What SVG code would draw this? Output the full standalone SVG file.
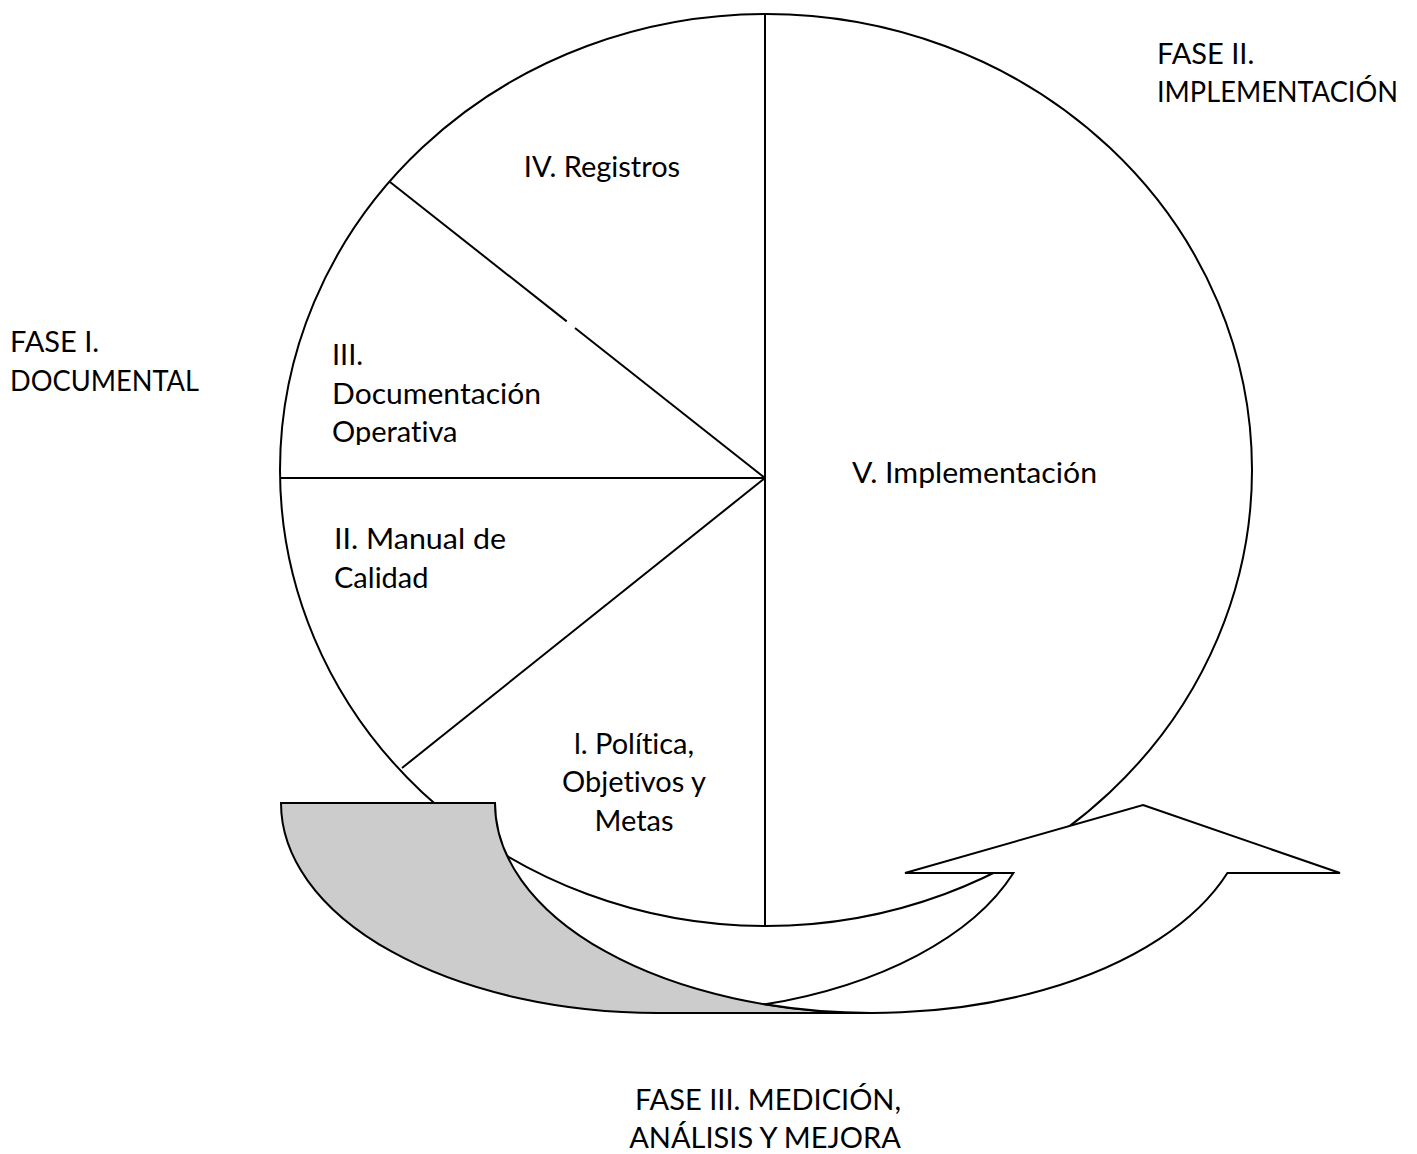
<svg xmlns="http://www.w3.org/2000/svg" width="1417" height="1154" viewBox="0 0 1417 1154">
  <style>
    .ln { fill: none; stroke: #000; stroke-width: 2; }
    .shape { stroke: #000; stroke-width: 2; stroke-linejoin: miter; }
    text { font-family: Lato, "Open Sans", sans-serif; font-size: 29px; fill: #000; font-variant-ligatures: none; }
    .mid { text-anchor: middle; }
  </style>
  <defs>
    <clipPath id="clipOp"><rect x="300" y="380" width="300" height="65"/></clipPath>
  </defs>
  <rect width="1417" height="1154" fill="#fff"/>

  <g id="wheel">
    <ellipse cx="766" cy="470" rx="486" ry="456" fill="#fff" class="shape"/>
  </g>

  <g id="connectors">
    <line class="ln" x1="765" y1="14" x2="765" y2="926"/>
    <line class="ln" x1="280" y1="478" x2="765" y2="478"/>
    <line class="ln" x1="390" y1="182" x2="566.7" y2="321.4"/>
    <line class="ln" x1="575" y1="328" x2="765" y2="478"/>
    <line class="ln" x1="402" y1="768" x2="765" y2="478"/>
  </g>

  <g id="cycle-arrow">
    <path class="shape" fill="#cccccc" d="M 281 803 L 495 803 A 377 210 0 0 0 872 1013 L 658 1013 A 377 210 0 0 1 281 803 Z"/>
    <path class="shape" fill="#fff" d="M 1143 805 L 1340 873 L 1227.4 873 A 377 210 0 0 1 765 1004.36 A 377 210 0 0 0 1013.4 873 L 905 873 Z"/>
  </g>

  <g id="label-fase2">
    <text x="1157" y="64">FASE II.</text>
    <text x="1157" y="102" textLength="241" lengthAdjust="spacingAndGlyphs">IMPLEMENTACIÓN</text>
  </g>
  <g id="node-iv">
    <text class="mid" x="602" y="177">IV. Registros</text>
  </g>
  <g id="label-fase1">
    <text x="10" y="352">FASE I.</text>
    <text x="10" y="391" textLength="189" lengthAdjust="spacingAndGlyphs">DOCUMENTAL</text>
  </g>
  <g id="node-iii">
    <text x="332" y="365">III.</text>
    <text x="332" y="404" textLength="209" lengthAdjust="spacingAndGlyphs">Documentación</text>
    <text x="332" y="442" clip-path="url(#clipOp)">Operativa</text>
  </g>
  <g id="node-v">
    <text x="852" y="483" textLength="245" lengthAdjust="spacingAndGlyphs">V. Implementación</text>
  </g>
  <g id="node-ii">
    <text x="334" y="549" textLength="172" lengthAdjust="spacingAndGlyphs">II. Manual de</text>
    <text x="334" y="588">Calidad</text>
  </g>
  <g id="node-i">
    <text class="mid" x="634" y="754">l. Política,</text>
    <text class="mid" x="634" y="792">Objetivos y</text>
    <text class="mid" x="634" y="831">Metas</text>
  </g>
  <g id="label-fase3">
    <text class="mid" x="768" y="1110">FASE III. MEDICIÓN,</text>
    <text class="mid" x="765" y="1148">ANÁLISIS Y MEJORA</text>
  </g>
</svg>
